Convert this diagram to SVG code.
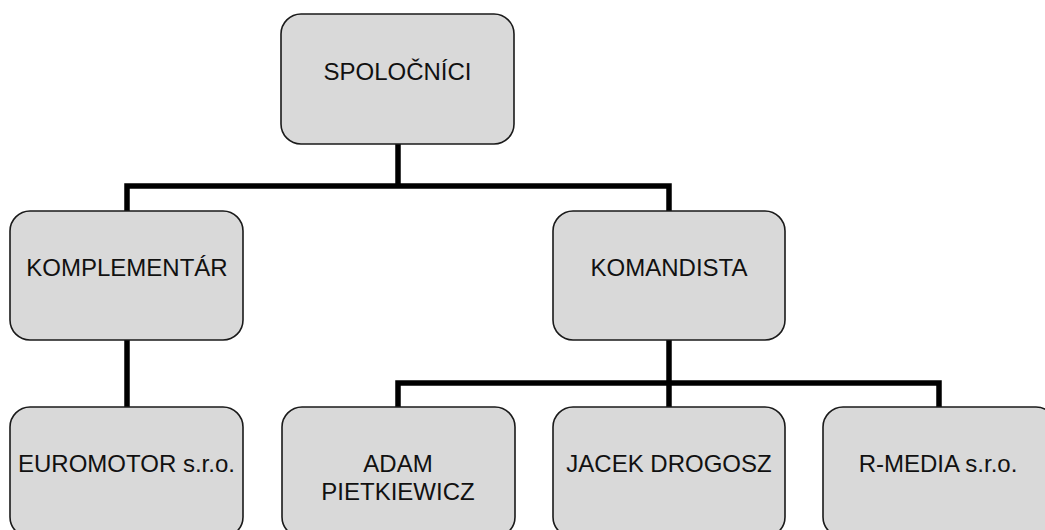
<svg xmlns="http://www.w3.org/2000/svg" width="1045" height="530" viewBox="0 0 1045 530">
<style>
.box{fill:#d9d9d9;stroke:#1a1a1a;stroke-width:1.6}
.lbl{font-family:"Liberation Sans",Arial,sans-serif;font-size:24px;fill:#111;text-anchor:middle}
.conn{fill:none;stroke:#000;stroke-width:5.5;stroke-linejoin:miter;stroke-linecap:butt}
</style>
<rect width="1045" height="530" fill="#fff"/>
<g id="connectors">
<path class="conn" d="M398,144 V186"/>
<path class="conn" d="M127,211 V186 H669 V211"/>
<path class="conn" d="M127,340 V407"/>
<path class="conn" d="M669,340 V407"/>
<path class="conn" d="M398,407 V383 H939 V407"/>
</g>
<g id="spolocnici">
<rect class="box" x="281" y="14" width="233" height="130" rx="20"/>
<text class="lbl" x="397.5" y="80">SPOLOČNÍCI</text>
</g>
<g id="komplementar">
<rect class="box" x="10" y="211" width="233" height="129" rx="20"/>
<text class="lbl" x="127" y="276">KOMPLEMENTÁR</text>
</g>
<g id="komandista">
<rect class="box" x="553" y="211" width="232" height="129" rx="20"/>
<text class="lbl" x="669" y="276">KOMANDISTA</text>
</g>
<g id="euromotor">
<rect class="box" x="10" y="407" width="233" height="130" rx="20"/>
<text class="lbl" x="126.5" y="472">EUROMOTOR s.r.o.</text>
</g>
<g id="adam">
<rect class="box" x="282" y="407" width="233" height="130" rx="20"/>
<text class="lbl" x="398" y="472">ADAM</text>
<text class="lbl" x="398" y="500">PIETKIEWICZ</text>
</g>
<g id="jacek">
<rect class="box" x="553" y="407" width="232" height="130" rx="20"/>
<text class="lbl" x="669" y="472">JACEK DROGOSZ</text>
</g>
<g id="rmedia">
<rect class="box" x="823" y="407" width="233" height="130" rx="20"/>
<text class="lbl" x="938" y="472">R-MEDIA s.r.o.</text>
</g>
</svg>
